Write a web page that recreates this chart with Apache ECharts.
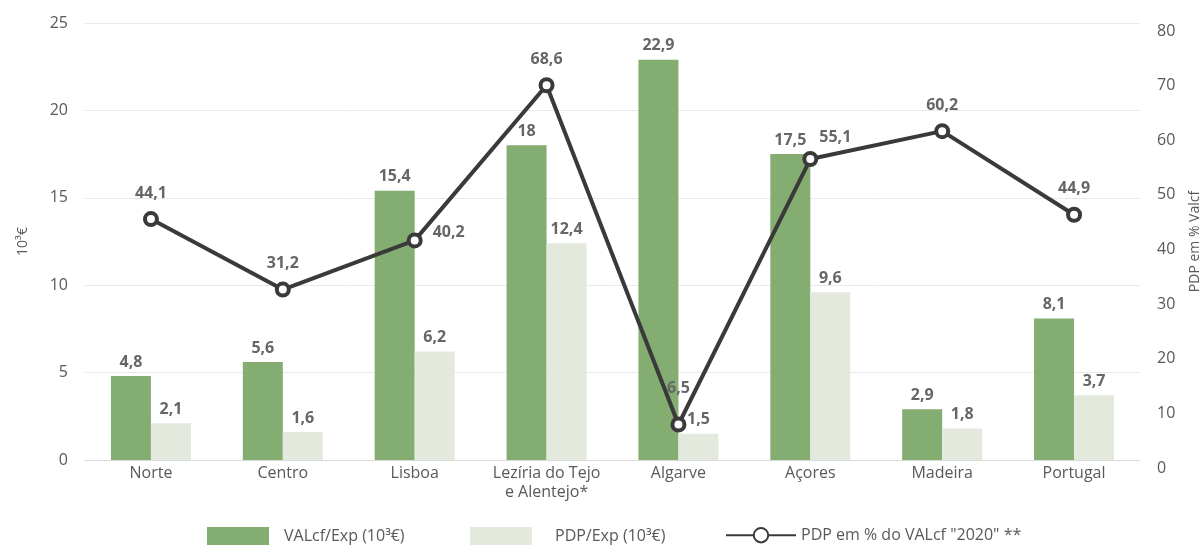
<!DOCTYPE html>
<html>
<head>
<meta charset="utf-8">
<script src="https://cdn.jsdelivr.net/npm/echarts@6/dist/echarts.min.js"></script>
<style>
  html, body { margin: 0; padding: 0; background: #ffffff; }
  #chart { width: 1203px; height: 547px; }
</style>
</head>
<body>
<div id="chart"></div>
<script>
// Regions and the three indicators shown per region
const regions = ['Norte', 'Centro', 'Lisboa', 'Lezíria do Tejo\ne Alentejo*', 'Algarve', 'Açores', 'Madeira', 'Portugal'];
const valcfExp = [4.8, 5.6, 15.4, 18, 22.9, 17.5, 2.9, 8.1];
const pdpExp = [2.1, 1.6, 6.2, 12.4, 1.5, 9.6, 1.8, 3.7];
const pdpPct = [44.1, 31.2, 40.2, 68.6, 6.5, 55.1, 60.2, 44.9];

// Axis ranges
const leftTicks = { min: 0, max: 25, interval: 5 };
const rightTicks = { min: 0, max: 80, interval: 10 };

const seriesNames = ['VALcf/Exp (10³€)', 'PDP/Exp (10³€)', 'PDP em % do VALcf "2020" **'];

const FONT = '"Open Sans", "Noto Sans", sans-serif';
const GREEN = '#84ad72';
const PALE = '#e3e9dd';
const LINE = '#3a3a3a';
const LABEL = '#666666';
const AXIS_TEXT = '#595959';

const fmt = v => String(v).replace('.', ',');

// Label placement for the line points (some sit beside or higher above the marker)
const lineLabelPlacement = {
  2: { position: 'right', distance: 10, offset: [0, -8] },
  4: { position: 'top', distance: 20 },
  5: { position: 'top', offset: [25, 4] }
};

const lineData = pdpPct.map((v, i) => {
  const p = lineLabelPlacement[i];
  return p ? { value: v, label: p } : v;
});

const barLabel = {
  show: true,
  position: 'top',
  distance: 6,
  color: LABEL,
  fontFamily: FONT,
  fontWeight: 'bold',
  fontSize: 16,
  formatter: p => fmt(p.value)
};

const chart = echarts.init(document.getElementById('chart'), null, { renderer: 'canvas' });

const legendBase = {
  top: 527,
  padding: 0,
  itemHeight: 18,
  selectedMode: false
};
// Legend text with a spacer before the name
const legendText = gap => ({
  color: AXIS_TEXT,
  fontFamily: FONT,
  fontSize: 16,
  rich: { gap: { width: gap } }
});
const legendFormat = name => '{gap|}' + name;

chart.setOption({
  animation: false,
  backgroundColor: '#ffffff',
  grid: { left: 85, right: 63, top: 23, bottom: 87, containLabel: false, outerBoundsMode: 'none' },
  legend: [
    Object.assign({}, legendBase, { left: 207, itemWidth: 62, textStyle: legendText(10), formatter: legendFormat, data: [{ name: seriesNames[0], icon: 'rect' }] }),
    Object.assign({}, legendBase, { left: 470, itemWidth: 62, textStyle: legendText(18), formatter: legendFormat, data: [{ name: seriesNames[1], icon: 'rect' }] }),
    Object.assign({}, legendBase, { left: 725, itemWidth: 70, textStyle: legendText(0), formatter: legendFormat, data: [seriesNames[2]] })
  ],
  xAxis: {
    type: 'category',
    data: regions,
    axisTick: { show: false },
    axisLine: { lineStyle: { color: '#d9d9d9', width: 1 } },
    axisLabel: {
      color: AXIS_TEXT,
      fontFamily: FONT,
      fontSize: 16,
      margin: 4,
      lineHeight: 19,
      interval: 0
    }
  },
  yAxis: [
    {
      type: 'value',
      min: leftTicks.min,
      max: leftTicks.max,
      interval: leftTicks.interval,
      name: '10³€',
      nameLocation: 'middle',
      nameGap: 55,
      nameRotate: 90,
      nameTextStyle: { color: AXIS_TEXT, fontFamily: FONT, fontSize: 14 },
      axisLine: { show: false },
      axisTick: { show: false },
      axisLabel: { color: AXIS_TEXT, fontFamily: FONT, fontSize: 16, margin: 17 },
      splitLine: { lineStyle: { color: '#e9e9e9', width: 1 } }
    },
    {
      type: 'value',
      min: rightTicks.min,
      max: rightTicks.max,
      interval: rightTicks.interval,
      name: 'PDP em % Valcf',
      nameLocation: 'middle',
      nameGap: 48,
      nameRotate: 90,
      nameTextStyle: { color: AXIS_TEXT, fontFamily: FONT, fontSize: 14 },
      axisLine: { show: false },
      axisTick: { show: false },
      axisLabel: { color: AXIS_TEXT, fontFamily: FONT, fontSize: 16, margin: 17, verticalAlign: 'top' },
      splitLine: { show: false }
    }
  ],
  series: [
    {
      name: seriesNames[0],
      type: 'bar',
      data: valcfExp,
      barWidth: 40,
      barGap: '0%',
      itemStyle: { color: GREEN },
      label: barLabel
    },
    {
      name: seriesNames[1],
      type: 'bar',
      data: pdpExp,
      barWidth: 40,
      itemStyle: { color: PALE },
      label: barLabel
    },
    {
      name: seriesNames[2],
      type: 'line',
      yAxisIndex: 1,
      data: lineData,
      symbol: 'circle',
      symbolSize: 12,
      lineStyle: { color: LINE, width: 4 },
      itemStyle: { color: '#ffffff', borderColor: LINE, borderWidth: 4 },
      label: {
        show: true,
        position: 'top',
        distance: 10,
        color: LABEL,
        fontFamily: FONT,
        fontWeight: 'bold',
        fontSize: 16,
        formatter: p => fmt(p.value)
      },
      z: 5
    }
  ]
});
</script>
</body>
</html>
